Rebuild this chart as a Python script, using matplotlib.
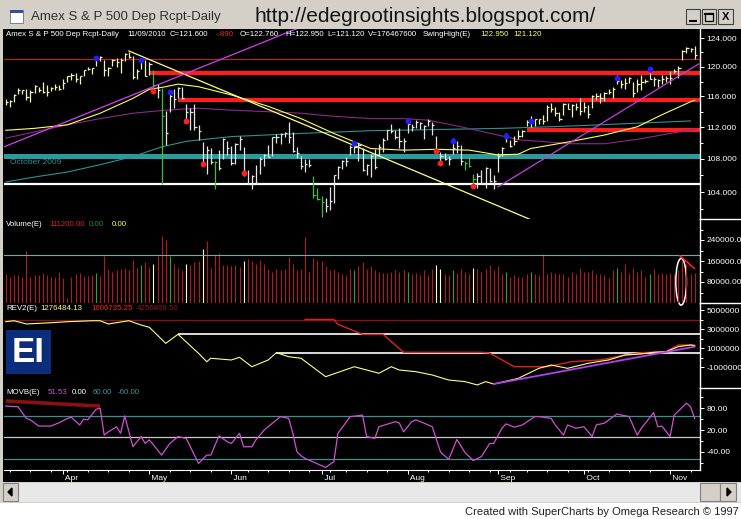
import numpy as np
import pandas as pd
import matplotlib
matplotlib.use("Agg")
import matplotlib.pyplot as plt
from matplotlib.patches import Rectangle, Ellipse, Polygon
from matplotlib.lines import Line2D
from matplotlib.ticker import NullFormatter

plt.rcParams["font.family"] = ["Liberation Sans", "DejaVu Sans"]

W, H = 741, 519

# trading days shown: 12 Mar 2010 .. 9 Nov 2010
holidays = ["2010-04-02", "2010-05-31", "2010-07-05", "2010-09-06"]
dates = pd.bdate_range("2010-03-12", "2010-11-09")
dates = dates[~dates.isin(pd.to_datetime(holidays))]

highs = [
    # Mar
    115.6, 115.5, 116.3, 117.1, 116.9, 117.0, 116.8, 117.5, 117.2, 118.0, 117.5, 117.3, 117.6, 117.5,
    # Apr
    118.3, 118.8, 119.2, 119.1, 118.8, 119.5, 120.0, 119.9, 121.2, 121.5, 121.0, 120.0, 121.1, 121.2,
    121.2, 121.9, 122.1, 121.5, 119.7, 121.2, 121.0,
    # May
    120.6, 119.5, 117.6, 117.1, 114.1, 116.3, 117.0, 117.3, 117.2, 115.0, 114.5, 115.0, 112.3, 110.1,
    109.6, 109.4, 107.8, 109.1, 110.6, 110.3,
    # Jun
    109.6, 110.0, 110.9, 109.5, 106.6, 106.0, 107.3, 108.2, 108.6, 109.7, 110.8, 111.1, 111.3, 111.4,
    112.6, 111.4, 109.5, 108.4, 108.0, 108.0, 105.9, 104.5,
    # Jul
    103.5, 103.3, 104.6, 106.1, 107.1, 107.9, 108.2, 109.8, 110.0, 110.0, 109.4, 107.4, 108.6, 109.2,
    109.9, 110.6, 111.6, 112.4, 111.7, 111.9, 110.6,
    # Aug
    112.5, 112.4, 112.9, 112.6, 112.3, 113.1, 112.6, 110.9, 108.9, 108.8, 108.4, 110.6, 110.3, 109.7,
    107.8, 108.4, 106.2, 106.3, 106.6, 107.0, 106.9, 106.0,
    # Sep
    108.7, 109.5, 111.2, 110.4, 110.9, 111.6, 111.6, 112.9, 113.4, 113.1, 113.0, 113.6, 114.9, 115.1,
    114.6, 114.0, 115.1, 115.1, 115.0, 115.2, 115.8,
    # Oct
    115.3, 114.9, 116.2, 116.4, 116.4, 116.6, 117.0, 117.3, 118.9, 118.2, 118.5, 118.6, 117.9, 118.3,
    118.9, 118.3, 119.2, 118.6, 118.3, 118.9, 118.7,
    # Nov
    119.4, 119.7, 120.1, 122.3, 122.7, 122.6, 122.95,
]
lows = [
    114.9, 114.6, 115.3, 116.3, 116.3, 115.5, 115.3, 116.4, 116.6, 116.5, 116.1, 116.7, 116.8, 116.8,
    117.0, 118.0, 118.2, 117.9, 117.7, 118.7, 119.5, 119.0, 120.1, 120.8, 118.7, 118.7, 120.1, 120.0,
    119.1, 120.8, 121.2, 118.3, 118.4, 119.7, 118.7,
    118.9, 116.8, 115.8, 105.0, 109.7, 114.0, 114.5, 115.8, 115.6, 112.6, 111.6, 111.7, 110.4, 107.3,
    106.2, 107.4, 104.4, 106.7, 108.0, 108.5,
    107.3, 107.4, 109.1, 105.9, 104.9, 104.3, 104.9, 106.2, 107.1, 108.2, 108.4, 110.0, 109.9, 110.7,
    110.0, 108.9, 108.1, 106.8, 106.4, 107.0, 103.3, 103.0,
    101.1, 101.6, 101.9, 102.7, 105.6, 106.8, 107.1, 108.5, 108.8, 107.8, 106.5, 106.1, 105.8, 106.8,
    108.4, 108.9, 110.4, 111.2, 110.5, 109.4, 108.9,
    111.2, 111.5, 111.9, 111.8, 110.5, 112.2, 111.0, 108.9, 107.8, 107.9, 107.2, 108.6, 108.8, 107.2,
    106.7, 107.0, 105.0, 104.5, 105.0, 104.5, 105.2, 104.4,
    106.4, 108.4, 110.1, 109.5, 109.8, 110.5, 110.7, 112.2, 112.0, 112.1, 112.4, 112.4, 112.8, 113.9,
    113.5, 112.8, 113.6, 114.3, 113.3, 114.2, 113.6,
    114.0, 113.2, 114.5, 115.5, 115.2, 115.4, 116.3, 115.8, 117.6, 117.1, 117.0, 117.8, 115.9, 116.6,
    116.9, 117.8, 118.3, 117.4, 117.2, 117.6, 118.0,
    117.6, 119.1, 118.5, 121.0, 121.9, 122.0, 121.12,
]
closes = [
    115.3, 115.4, 116.2, 116.8, 116.8, 115.9, 116.6, 117.4, 116.8, 116.6, 116.6, 117.1, 117.2, 117.0,
    117.8, 118.7, 118.9, 118.3, 118.7, 119.5, 119.7, 119.8, 121.1, 121.3, 119.5, 119.9, 120.9, 120.6,
    121.0, 121.8, 121.4, 118.6, 119.4, 120.9, 118.8,
    120.4, 117.5, 116.8, 113.5, 111.3, 116.0, 115.7, 117.1, 115.8, 113.9, 114.0, 112.0, 111.5, 107.5,
    109.1, 107.6, 107.6, 106.9, 110.5, 109.4,
    107.5, 109.9, 110.5, 106.3, 104.9, 105.9, 105.1, 108.0, 108.5, 108.3, 110.8, 110.8, 111.1, 111.2,
    110.7, 109.0, 108.8, 107.1, 107.4, 107.2, 103.7, 103.2,
    102.8, 102.3, 102.9, 106.0, 107.0, 107.8, 107.8, 109.5, 109.5, 109.7, 106.6, 107.2, 108.4, 107.0,
    109.5, 110.4, 111.6, 111.5, 110.7, 110.3, 110.3,
    112.4, 112.0, 112.6, 112.5, 112.1, 112.8, 112.3, 109.0, 108.4, 108.0, 108.0, 109.4, 109.6, 107.8,
    107.5, 107.1, 105.5, 105.9, 105.1, 106.9, 105.3, 105.3,
    108.4, 109.4, 110.9, 109.6, 110.3, 110.9, 111.5, 112.7, 112.7, 113.0, 113.0, 112.8, 114.6, 114.3,
    113.8, 113.0, 115.0, 114.4, 114.9, 114.6, 114.1,
    114.6, 113.7, 116.0, 116.0, 115.8, 116.5, 116.6, 117.0, 118.1, 117.6, 117.8, 118.5, 116.5, 117.6,
    117.9, 118.1, 118.4, 118.4, 118.2, 118.4, 118.5,
    118.5, 119.4, 119.9, 122.2, 122.6, 122.4, 121.6,
]
# volume, thousands
volume = [
    110, 98, 105, 105, 98, 200, 98, 105, 107, 115, 105, 99, 98, 120,
    96, 20, 98, 112, 115, 103, 103, 105, 115, 103, 180, 130, 117, 125, 130, 133, 125, 165, 135, 144, 158,
    136, 150, 180, 255, 240, 180, 147, 135, 125, 150, 144, 155, 160, 205, 236, 133, 185, 192, 144, 144,
    140, 144, 138, 160, 168, 160, 150, 165, 150, 130, 120, 130, 125, 130, 176, 150, 125, 130, 252, 120,
    170, 165,
    160, 140, 125, 130, 120, 110, 105, 130, 125, 140, 157, 130, 140, 125, 120, 115, 115, 118, 125, 120, 125,
    118, 112, 115, 105, 125, 108, 130, 145, 128, 110, 105, 125, 115, 130, 118, 110, 135, 128, 120, 130,
    145, 125,
    140, 110, 120, 100, 108, 100, 98, 112, 118, 110, 108, 187, 112, 118, 115, 110, 112, 100, 118, 110, 133,
    120, 118, 125, 110, 112, 105, 95, 125, 133, 118, 148, 115, 133, 120, 125, 100, 110, 130, 112, 115, 110,
    115, 112, 125, 160, 150, 110, 114,
]
assert len(highs) == len(lows) == len(closes) == len(volume) == len(dates)

green_bars = [36, 38, 51, 75, 76, 77, 112, 113, 114]

swing_high_idx = [22, 33, 40, 85, 98, 109, 122, 128, 149, 157]
swing_high_px = [121.2, 120.9, 116.6, 110.0, 112.8, 110.2, 110.9, 112.8, 118.5, 119.7]
swing_low_idx = [36, 44, 48, 58, 105, 106, 114]
swing_low_px = [116.7, 112.8, 107.4, 106.3, 109.0, 107.5, 104.7]

# support / resistance drawn on the price pane
red_thin_level = 121.1
red_band_levels = [119.2, 115.5, 111.7]
red_band_starts = [35, 42, 127]
teal_band_level = 108.4
white_support = 104.9

# moving averages (sampled)
yellow_ma_idx = [0, 7, 15, 23, 31, 35, 39, 42, 47, 55, 64, 72, 80, 89, 97, 105, 113, 120, 125, 128,
                 138, 146, 154, 160, 167, 168]
yellow_ma_px = [111.6, 111.85, 112.3, 113.8, 115.75, 116.95, 117.3, 117.65, 117.3, 116.2, 114.7, 113.1,
                111.2, 109.3, 109.1, 109.2, 109.1, 108.5, 108.6, 109.3, 110.2, 111.0, 112.05, 113.6,
                115.3, 115.5]
purple_ma_idx = [0, 7, 15, 23, 31, 39, 47, 55, 64, 72, 80, 89, 97, 103, 111, 120, 125, 138, 146, 154,
                 162, 168]
purple_ma_px = [110.6, 111.4, 112.3, 113.1, 113.8, 114.2, 114.45, 114.2, 114.0, 113.8, 113.4, 113.1,
                113.1, 112.9, 112.05, 111.0, 110.4, 109.9, 109.9, 110.45, 111.2, 111.7]
teal_ma_idx = [0, 7, 15, 23, 31, 38, 44, 55, 72, 89, 121, 138, 167]
teal_ma_px = [105.2, 105.8, 106.4, 107.3, 108.3, 109.5, 110.2, 110.8, 111.2, 111.55, 111.85, 112.15, 112.8]

# trendlines
ytrend_idx = [30, 128.6]
ytrend_px = [122.2, 100.65]
mag1_idx = [0, 64]
mag1_px = [109.6, 123.7]
mag2_idx = [120, 169]
mag2_px = [104.6, 120.4]

vol_ref_level = 183000

# REV2 (millions)
rev_dark_level = 4.0
rev_white_levels = [2.44, 0.51]
rev_white_starts = [42, 66]
rev_yel_idx = [0, 2, 5, 11, 15, 21, 23, 25, 30, 33, 35, 39, 42, 47, 49, 50, 55, 57, 60, 64, 66, 69, 72,
               78, 85, 91, 94, 96, 100, 104, 108, 112, 115, 117, 119, 125, 130, 133, 137, 142, 147, 151,
               155, 158, 161, 164, 167, 168]
rev_yel_val = [3.77, 3.87, 3.53, 3.66, 3.77, 3.87, 3.87, 3.53, 3.87, 3.42, 3.18, 1.49, 2.44, 0.44, -0.44,
               -0.08, -0.26, 0.02, -0.97, -0.26, 0.51, 0.08, -0.08, -2.02, -0.97, -1.66, -0.97, -1.32,
               -1.49, -1.84, -2.37, -2.54, -2.89, -2.54, -2.79, -2.19, -1.14, -0.79, -1.14, -0.61, -0.26,
               0.26, 0.37, 0.55, 0.61, 1.14, 1.32, 1.28]
rev_red_idx = [73, 80, 81, 87, 92, 97, 116, 118, 124, 132, 138, 145, 151, 155, 161, 164, 167, 168]
rev_red_val = [4.0, 4.0, 3.49, 2.44, 2.44, 0.55, 0.55, 0.47, -0.97, -0.97, -0.44, -0.26, 0.26, 0.51,
               0.61, 1.32, 1.32, 1.2]
rev_purple_idx = [119, 168]
rev_purple_val = [-2.79, 1.14]

# MOVB
movb_levels = [60, 0, -60]
movb_red_idx = [0, 23]
movb_red_val = [100, 86]
movb_idx = [0, 3, 5, 6, 8, 11, 13, 15, 16, 18, 19, 20, 22, 23, 24, 25, 27, 28, 29, 31,
            33, 34, 35, 38, 40, 42, 44, 47, 49, 50, 52, 54, 55, 57, 58, 60, 61, 63, 67, 69,
            70, 71, 72, 73, 78, 80, 81, 84, 87, 88, 90, 91, 95, 96, 97, 99, 100, 102, 104, 106,
            108, 110, 112, 114, 116, 118, 119, 121, 122, 124, 126, 129, 130, 133, 134, 136, 137, 139, 141, 143,
            144, 146, 149, 152, 154, 155, 158, 159, 160, 162, 163, 166, 167, 168]
movb_val = [86, 84, 52, 48, 31, 31, 40, 52, 55, 34, 50, 48, 77, 80, 6, 15, 29, 11, 59, -26,
            2, -17, -7, -49, -17, 2, -3, -72, -49, -49, 4, -12, -17, 11, -26, -26, -7, 20, 57, 52,
            11, -40, -51, -58, -83, -67, 11, 57, 61, 2, -3, 29, 43, 39, 15, 43, 48, 39, 29, -40,
            -61, -6, -42, -64, -53, -17, -17, 25, 37, 28, 34, 57, 57, 52, 34, 6, 34, 25, 29, 2,
            34, 39, 64, 57, 6, 25, 68, 29, 31, 2, 61, 94, 84, 52]

# ---------------------------------------------------------------
fig = plt.figure(figsize=(W / 100, H / 100), dpi=100)
fig.patch.set_facecolor("#d4d0c8")


def fx(x):
    return x / W


def fy(y):
    return 1 - y / H


def frect(x0, y0, x1, y1, z=-2, **kw):
    r = Rectangle((fx(x0), fy(y1)), fx(x1) - fx(x0), fy(y0) - fy(y1),
                  transform=fig.transFigure, zorder=z, **kw)
    fig.add_artist(r)
    return r


def fline(xs, ys, z=4, **kw):
    fig.add_artist(Line2D([fx(x) for x in xs], [fy(y) for y in ys],
                          transform=fig.transFigure, zorder=z, **kw))


def ftext(x, y, s, **kw):
    kw.setdefault("va", "center")
    kw.setdefault("ha", "left")
    fig.text(fx(x), fy(y), s, **kw)


# window chrome
frect(3, 29, 741, 482, facecolor="black", edgecolor="none")
frect(0, 503, 741, 519, facecolor="white", edgecolor="none")
frect(3, 483, 741, 502, facecolor="#e8e8e8", edgecolor="none")
frect(3, 483, 18, 501, z=-1, facecolor="#d4d0c8", edgecolor="#808080", lw=0.8)
frect(700, 483, 720, 501, z=-1, facecolor="#d4d0c8", edgecolor="#808080", lw=0.8)
frect(720, 483, 736, 501, z=-1, facecolor="#d4d0c8", edgecolor="#808080", lw=0.8)
fig.add_artist(Polygon([[fx(8), fy(492)], [fx(12), fy(488)], [fx(12), fy(496)]],
                       transform=fig.transFigure, color="black", zorder=3))
fig.add_artist(Polygon([[fx(731), fy(492)], [fx(727), fy(488)], [fx(727), fy(496)]],
                       transform=fig.transFigure, color="black", zorder=3))

frect(10, 10, 23, 23, z=3, facecolor="white", edgecolor="#707070", lw=0.6)
frect(10, 10, 23, 13, z=3, facecolor="#3050a0", edgecolor="none")
ftext(31, 17, "Amex S & P 500 Dep Rcpt-Daily", fontsize=9.5, color="#303030")
ftext(255, 16, "http://edegrootinsights.blogspot.com/", fontsize=15, color="#151515")
for x0, x1 in [(686, 700), (702, 716), (718, 733)]:
    frect(x0, 9, x1, 24, z=3, facecolor="#d4d0c8", edgecolor="#404040", lw=0.8)
fline([690, 696], [21, 21], lw=1.5, color="black")
frect(705, 13, 713, 21, z=4, facecolor="none", edgecolor="black", lw=0.9)
fline([705, 713], [13.5, 13.5], lw=1.5, color="black")
ftext(725.5, 16.5, "X", ha="center", fontsize=8, fontweight="bold", color="black")

ftext(739, 512, "Created with SuperCharts by Omega Research \u00a9 1997", ha="right",
      fontsize=8, color="#202020", family=["Liberation Sans Narrow", "Liberation Sans"])

XMIN, XMAX = -0.44, 169.3
idx = np.arange(len(dates))


def panel(top, bottom):
    ax = fig.add_axes([fx(4), fy(bottom), fx(700) - fx(4), (bottom - top) / H])
    ax.set_facecolor("none")
    for s in ax.spines.values():
        s.set_visible(False)
    ax.spines["right"].set_visible(True)
    ax.spines["right"].set_color("white")
    ax.spines["right"].set_linewidth(1.0)
    ax.yaxis.tick_right()
    ax.tick_params(axis="y", which="major", colors="white", labelsize=6, length=3, width=0.7,
                   pad=1.5, direction="out")
    ax.tick_params(axis="y", which="minor", colors="white", length=1.8, width=0.7, direction="out")
    ax.tick_params(axis="x", which="both", bottom=False, labelbottom=False)
    ax.set_xlim(XMIN, XMAX)
    return ax


# ---- price pane
axp = panel(29, 219)
axp.set_yscale("log")
axp.set_ylim(100.84, 125.3)
axp.set_yticks([104, 108, 112, 116, 120, 124],
               labels=["104.000", "108.000", "112.000", "116.000", "120.000", "124.000"])
axp.set_yticks([102, 106, 110, 114, 118, 122], minor=True)
axp.yaxis.set_minor_formatter(NullFormatter())

axp.axhline(red_thin_level, color="#c81e1e", lw=0.8)
for lvl, start in zip(red_band_levels, red_band_starts):
    axp.hlines(lvl, start, XMAX, color="#ff1c1c", lw=3.0)
axp.axhline(teal_band_level, color="#2b9a9c", lw=3.6)
axp.axhline(white_support, color="white", lw=1.6)

axp.plot(teal_ma_idx, teal_ma_px, color="#2f9090", lw=0.8)
axp.plot(purple_ma_idx, purple_ma_px, color="#8a2a8a", lw=0.8)
axp.plot(yellow_ma_idx, yellow_ma_px, color="#ffff55", lw=0.8)

bar_colors = []
for i in idx:
    if i in green_bars:
        bar_colors.append("#3cc03c")
    elif i < 35 or i >= 120:
        bar_colors.append("#f2f2c0")
    else:
        bar_colors.append("#e4e4e4")
axp.vlines(idx, lows, highs, colors=bar_colors, lw=0.9)
axp.hlines(closes, idx, idx + 0.55, colors=bar_colors, lw=0.9)

axp.plot(ytrend_idx, ytrend_px, color="#ffff88", lw=0.9)
axp.axline((mag1_idx[0], mag1_px[0]), (mag1_idx[1], mag1_px[1]), color="#d040f0", lw=0.9)
axp.plot(mag2_idx, mag2_px, color="#c040e0", lw=0.9)
axp.plot(swing_high_idx, swing_high_px, "o", color="#2020ff", ms=4.2, mec="none")
axp.plot(swing_low_idx, swing_low_px, "o", color="#ff2020", ms=4.2, mec="none")

ftext(10, 163, "October 2009", fontsize=6, color="#2f8f8f")

info = [(6, "Amex S & P 500 Dep Rcpt-Daily", "white"), (127, "11/09/2010", "white"),
        (170, "C=121.600", "white"), (216, "-.890", "#ff2020"), (240, "O=122.760", "white"),
        (285, "H=122.950", "white"), (327, "L=121.120", "white"), (368, "V=176467600", "white"),
        (423, "SwingHigh(E)", "white"), (480, "122.950", "#ffff60"), (513, "121.120", "#ffff60")]
for x, s, c in info:
    ftext(x, 35, s, fontsize=5.7, color=c)

# ---- volume pane
axv = panel(219, 303)
axv.set_ylim(0, 320000)
axv.set_yticks([80000, 160000, 240000], labels=["80000.00", "160000.0", "240000.0"])
axv.set_yticks([40000, 120000, 200000, 280000], minor=True)
vol_colors = []
for i in idx:
    if i in swing_high_idx:
        vol_colors.append("#30a030")
    elif i in swing_low_idx:
        vol_colors.append("#ffffc8")
    else:
        vol_colors.append("#b01c1c")
axv.vlines(idx, 0, np.array(volume) * 1000, colors=vol_colors, lw=0.8)
axv.axhline(vol_ref_level, color="#7aa8a8", lw=0.8)
axv.add_patch(Ellipse((164.7, 81000), 2.6, 178000, fill=False, ec="white", lw=1.1, clip_on=False))
axv.plot([164.4, 167.9], [180000, 132000], color="#ff2020", lw=1.2, clip_on=False)
for x, s, c in [(6, "Volume(E)", "white"), (49, "111200.00", "#e02020"), (89, "0.00", "#209020"),
                (112, "0.00", "#ffff60")]:
    ftext(x, 225, s, fontsize=5.7, color=c)

# ---- REV2 pane
axr = panel(303, 388)
axr.set_ylim(-3.21e6, 5.737e6)
axr.set_yticks([-1e6, 1e6, 3e6, 5e6],
               labels=["-1000000", "1000000", "3000000", "5000000"])
axr.set_yticks([0, 2e6, 4e6], minor=True)
axr.axhline(rev_dark_level * 1e6, color="#8b1010", lw=1.0)
axr.hlines(np.array(rev_white_levels) * 1e6, rev_white_starts, XMAX, color="white", lw=1.2)
axr.plot(rev_red_idx, np.array(rev_red_val) * 1e6, color="#e02020", lw=1.0)
axr.plot(rev_yel_idx, np.array(rev_yel_val) * 1e6, color="#ffff80", lw=0.8)
axr.plot(rev_purple_idx, np.array(rev_purple_val) * 1e6, color="#b040f0", lw=1.3)
for x, s, c in [(6, "REV2(E)", "white"), (40, "1276484.13", "#ffff80"), (91, "1606735.25", "#ff2020"),
                (137, "4256869.50", "#8b1a1a")]:
    ftext(x, 308, s, fontsize=5.7, color=c)

frect(6, 330, 51, 374, z=5, facecolor="#0c2d7c", edgecolor="none")
ftext(28.5, 352, "EI", ha="center", fontsize=25, fontweight="bold", color="white", zorder=6,
      family=["Liberation Sans Narrow", "Liberation Sans"])

# ---- MOVB pane
axm = panel(388, 470)
axm.set_ylim(-90, 135.7)
axm.set_yticks([-40, 20, 80], labels=["-40.00", "20.00", "80.00"])
axm.set_yticks([-70, -10, 50, 110], minor=True)
axm.axhline(movb_levels[0], color="#3a8f8f", lw=0.9)
axm.axhline(movb_levels[1], color="#c8c8c8", lw=0.9)
axm.axhline(movb_levels[2], color="#3a8f8f", lw=0.9)
axm.plot(movb_red_idx, movb_red_val, color="#8b1010", lw=2.6, solid_capstyle="butt")
axm.plot(movb_idx, movb_val, color="#d050d0", lw=0.9)
for x, s, c in [(6, "MOVB(E)", "white"), (48, "51.53", "#d050d0"), (72, "0.00", "white"),
                (93, "60.00", "#3a9a9a"), (118, "-60.00", "#3a9a9a")]:
    ftext(x, 393, s, fontsize=5.7, color=c)

month_idx = [i for i in range(1, len(dates)) if dates[i].month != dates[i - 1].month]
week_idx = [i for i in range(1, len(dates)) if dates[i].weekday() < dates[i - 1].weekday()]
axm.spines["bottom"].set_visible(True)
axm.spines["bottom"].set_color("white")
axm.set_xticks(month_idx, labels=[" " + dates[i].strftime("%b") for i in month_idx])
axm.set_xticks(week_idx, minor=True)
axm.tick_params(axis="x", which="both", bottom=True, labelbottom=True, colors="white",
                labelsize=6, direction="out", width=0.7)
axm.tick_params(axis="x", which="major", length=3, pad=0.5)
axm.tick_params(axis="x", which="minor", length=1.5)
for t in axm.get_xticklabels():
    t.set_ha("left")

# separators in the scale column
for yy in (219, 303, 388):
    fline([700, 741], [yy, yy], color="white", lw=1.0)

fig.savefig("out.png", dpi=100, facecolor=fig.get_facecolor())
